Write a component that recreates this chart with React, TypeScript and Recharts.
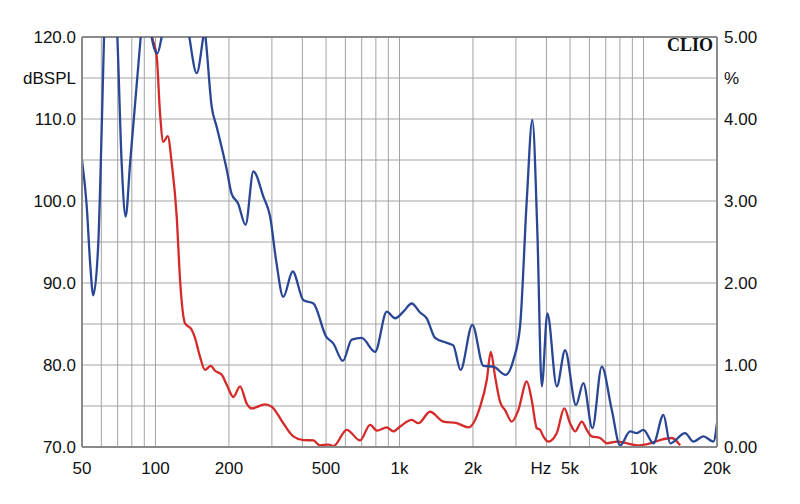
import React from 'react';
import { LineChart, Line, XAxis, YAxis, CartesianGrid, ReferenceLine } from 'recharts';

// blue curve (values in %, right axis)
const blueFreq = [
    50, 52.3, 54, 55.6, 58.3, 60.2, 61.5, 65, 69.8, 72.7, 75.5, 78.7, 87, 91.5, 96.5,
    101.8, 106, 120, 137.7, 147.6, 157, 159, 161, 170, 178, 196, 205, 218, 234, 252,
    277, 295, 312, 334, 365, 404, 444, 500, 536, 586, 637, 700, 794, 887, 959, 1037,
    1123, 1214, 1293, 1399, 1562, 1661, 1778, 1989, 2206, 2425, 2721, 2928, 3119, 3323,
    3503, 3673, 3828, 4036, 4411, 4770, 5288, 5666, 6172, 6743, 7412, 8015, 8810, 9386,
    9989, 10977, 12067, 12853, 14801, 16007, 17591, 19333, 20000,
];
const blueVal = [
    3.5, 2.93, 2.24, 1.85, 2.48, 3.87, 4.96, 6.5, 5.0, 3.46, 2.81, 3.46, 5.0, 5.8, 5.0,
    4.8, 5.0, 6.5, 5.0, 4.56, 5.0, 5.1, 4.95, 4.15, 3.91, 3.38, 3.09, 2.97, 2.71, 3.36,
    3.05, 2.81, 2.28, 1.83, 2.14, 1.79, 1.75, 1.35, 1.26, 1.05, 1.31, 1.33, 1.16, 1.65, 1.57, 1.65,
    1.75, 1.64, 1.57, 1.33, 1.27, 1.24, 0.94, 1.49, 0.99, 0.98, 0.88, 1.06, 1.47, 3.01,
    3.99, 2.61, 0.74, 1.63, 0.74, 1.18, 0.51, 0.78, 0.23, 0.98, 0.45, 0.02, 0.19, 0.17,
    0.21, 0.045, 0.39, 0.045, 0.17, 0.065, 0.13, 0.065, 0.29,
];

// red curve
const redFreq = [
    82.4, 96.8, 101.2, 104.4, 107.7, 112.3, 116.6, 122.2, 126.1, 132.1, 140.8, 145.2,
    152.3, 159.6, 168.5, 175.5, 186.9, 195.9, 208.6, 222.1, 236.6, 248.1, 281, 300, 334,
    367, 404, 444, 472, 511, 536, 608, 689, 758, 808, 887, 944, 1006, 1123, 1195, 1334,
    1513, 1717, 1915, 2138, 2279, 2366, 2464, 2583, 2708, 2884, 3069, 3323, 3483, 3651,
    3766, 3885, 4073, 4411, 4734, 5000, 5243, 5583, 5852, 6135, 6636, 7070, 7773, 8541,
    9386, 10640, 11693, 13059, 14125,
];
const redVal = [
    6.5, 5.0, 4.76, 4.07, 3.72, 3.79, 3.46, 2.81, 2.04, 1.51, 1.43, 1.33,
    1.1, 0.94, 0.99, 0.93, 0.88, 0.76, 0.61, 0.74, 0.53, 0.47, 0.52, 0.49, 0.29,
    0.13, 0.085, 0.08, 0.02, 0.03, 0.01, 0.21, 0.08, 0.27, 0.2, 0.24, 0.19, 0.25, 0.33, 0.29, 0.43,
    0.31, 0.29, 0.24, 0.49, 0.82, 1.16, 0.86, 0.55, 0.45, 0.31, 0.45, 0.8, 0.57, 0.23,
    0.21, 0.13, 0.065, 0.17, 0.47, 0.29, 0.19, 0.31, 0.21, 0.13, 0.11, 0.045, 0.065, 0.045,
    0.02, 0.045, 0.085, 0.11, 0.02,
];

const xTicks = [50, 100, 200, 500, 1000, 2000, 3800, 5000, 10000, 20000];
const xGrid = [
    60, 70, 80, 90, 100, 200, 300, 400, 500, 600, 700, 800, 900,
    1000, 2000, 3000, 4000, 5000, 6000, 7000, 8000, 9000, 10000,
];
const dbTicks = [70, 80, 90, 100, 110, 115, 120];
const dbGrid = [75, 80, 85, 90, 95, 100, 105, 110, 115];
const pctTicks = [0, 1, 2, 3, 4, 4.5, 5];
const dbMinor = Array.from({ length: 51 }, (_, i) => 70 + i);
const pctMinor = Array.from({ length: 51 }, (_, i) => i / 10);

const blueData = blueFreq.map((f, i) => ({ f, v: blueVal[i] }));
const redData = redFreq.map((f, i) => ({ f, v: redVal[i] }));
const toDb = (d: { v: number }) => 70 + d.v * 10;

const font = '"Liberation Sans", Arial, sans-serif';
const tickStyle = { fontSize: 17, fill: '#111', fontFamily: font };
const axisLine = { stroke: '#8a8a8a', strokeWidth: 2 };

export default function App() {
    return (
        <div style={{ position: 'absolute', left: 0, top: 0, width: 800, height: 504, background: '#fff' }}>
            <LineChart width={800} height={504} margin={{ top: 37, right: 0, bottom: 27, left: 0 }}>
                <CartesianGrid
                    xAxisId="x"
                    yAxisId="left"
                    stroke="#a3a3a3"
                    strokeWidth={1}
                    verticalValues={xGrid}
                    horizontalValues={dbGrid}
                />
                <XAxis
                    xAxisId="x"
                    type="number"
                    dataKey="f"
                    scale="log"
                    domain={[50, 20000]}
                    allowDataOverflow
                    ticks={xTicks}
                    interval={0}
                    tickFormatter={(v: number) => (v === 3800 ? 'Hz' : v >= 1000 ? `${v / 1000}k` : `${v}`)}
                    tick={tickStyle}
                    tickLine={false}
                    tickSize={0}
                    tickMargin={15}
                    axisLine={axisLine}
                    height={30}
                />
                <YAxis
                    yAxisId="left"
                    orientation="left"
                    type="number"
                    domain={[70, 120]}
                    allowDataOverflow
                    ticks={dbTicks}
                    interval={0}
                    tickFormatter={(v: number) => (v === 115 ? 'dBSPL' : v.toFixed(1))}
                    tick={tickStyle}
                    tickLine={false}
                    tickSize={0}
                    tickMargin={6}
                    axisLine={axisLine}
                    width={82}
                />
                <YAxis
                    yAxisId="leftMinor"
                    orientation="left"
                    mirror
                    type="number"
                    domain={[70, 120]}
                    allowDataOverflow
                    ticks={dbMinor}
                    interval={0}
                    tick={false}
                    tickLine={{ stroke: '#8a8a8a' }}
                    tickSize={4}
                    axisLine={false}
                    width={0}
                />
                <YAxis
                    yAxisId="right"
                    orientation="right"
                    type="number"
                    domain={[0, 5]}
                    allowDataOverflow
                    ticks={pctTicks}
                    interval={0}
                    tickFormatter={(v: number) => (v === 4.5 ? '%' : v.toFixed(2))}
                    tick={tickStyle}
                    tickLine={false}
                    tickSize={0}
                    tickMargin={7}
                    axisLine={axisLine}
                    width={83}
                />
                <YAxis
                    yAxisId="rightMinor"
                    orientation="right"
                    mirror
                    type="number"
                    domain={[0, 5]}
                    allowDataOverflow
                    ticks={pctMinor}
                    interval={0}
                    tick={false}
                    tickLine={{ stroke: '#8a8a8a' }}
                    tickSize={4}
                    axisLine={false}
                    width={0}
                />
                <ReferenceLine xAxisId="x" yAxisId="left" y={120} stroke="#8a8a8a" strokeWidth={2} />
                {/* invisible copies so the dB axes get a scale */}
                <Line xAxisId="x" yAxisId="left" data={blueData} dataKey={toDb} stroke="none" dot={false} activeDot={false} isAnimationActive={false} />
                <Line xAxisId="x" yAxisId="leftMinor" data={blueData} dataKey={toDb} stroke="none" dot={false} activeDot={false} isAnimationActive={false} />
                <Line xAxisId="x" yAxisId="rightMinor" data={blueData} dataKey="v" stroke="none" dot={false} activeDot={false} isAnimationActive={false} />
                <Line
                    xAxisId="x"
                    yAxisId="right"
                    data={redData}
                    dataKey="v"
                    type="monotone"
                    stroke="#d42a2a"
                    strokeWidth={2.3}
                    dot={false}
                    isAnimationActive={false}
                />
                <Line
                    xAxisId="x"
                    yAxisId="right"
                    data={blueData}
                    dataKey="v"
                    type="monotone"
                    stroke="#2a4795"
                    strokeWidth={2.3}
                    dot={false}
                    isAnimationActive={false}
                />
            </LineChart>
            <div
                style={{
                    position: 'absolute',
                    right: 87,
                    top: 35,
                    fontFamily: '"Liberation Serif", "Times New Roman", serif',
                    fontWeight: 'bold',
                    fontSize: 18,
                    color: '#111',
                }}
            >
                CLIO
            </div>
        </div>
    );
}
